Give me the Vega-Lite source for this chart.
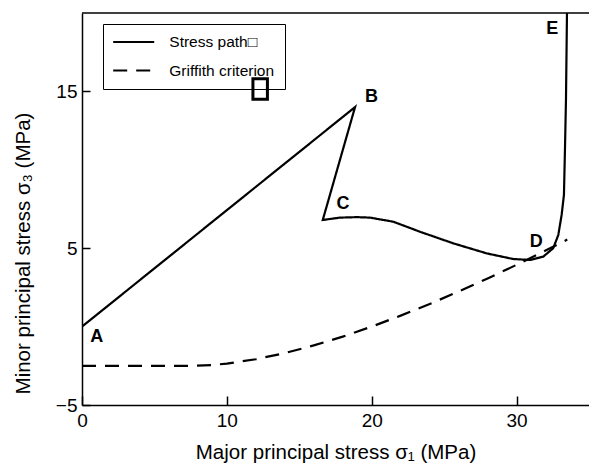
{
  "$schema": "https://vega.github.io/schema/vega-lite/v6.json",
  "width": 507,
  "height": 392,
  "autosize": "none",
  "padding": {"left": 82, "top": 13, "right": 0, "bottom": 63},
  "background": "white",
  "config": {
    "view": {"stroke": null},
    "font": "Liberation Sans",
    "axis": {
      "grid": false,
      "labelFlush": false,
      "domainColor": "black",
      "domainWidth": 1.5,
      "tickColor": "black",
      "tickWidth": 1.5,
      "labelColor": "black",
      "labelFont": "Liberation Sans",
      "labelFontSize": 19,
      "titleFont": "Liberation Sans",
      "titleFontSize": 20.5,
      "titleFontWeight": "normal",
      "titleColor": "black"
    }
  },
  "datasets": {
    "paths": [
      {"series": "Stress path□", "i": 0, "x": 0, "y": 0},
      {"series": "Stress path□", "i": 1, "x": 18.85, "y": 14.0},
      {"series": "Stress path□", "i": 2, "x": 16.62, "y": 6.8},
      {"series": "Stress path□", "i": 3, "x": 17.81, "y": 6.95},
      {"series": "Stress path□", "i": 4, "x": 19.0, "y": 6.98},
      {"series": "Stress path□", "i": 5, "x": 19.88, "y": 6.95},
      {"series": "Stress path□", "i": 6, "x": 21.49, "y": 6.69},
      {"series": "Stress path□", "i": 7, "x": 23.33, "y": 6.05},
      {"series": "Stress path□", "i": 8, "x": 25.63, "y": 5.31},
      {"series": "Stress path□", "i": 9, "x": 27.94, "y": 4.67},
      {"series": "Stress path□", "i": 10, "x": 29.77, "y": 4.31},
      {"series": "Stress path□", "i": 11, "x": 30.93, "y": 4.25},
      {"series": "Stress path□", "i": 12, "x": 31.84, "y": 4.46},
      {"series": "Stress path□", "i": 13, "x": 32.53, "y": 5.0},
      {"series": "Stress path□", "i": 14, "x": 32.88, "y": 5.84},
      {"series": "Stress path□", "i": 15, "x": 33.11, "y": 7.12},
      {"series": "Stress path□", "i": 16, "x": 33.27, "y": 8.39},
      {"series": "Stress path□", "i": 17, "x": 33.34, "y": 11.26},
      {"series": "Stress path□", "i": 18, "x": 33.41, "y": 14.45},
      {"series": "Stress path□", "i": 19, "x": 33.48, "y": 20},
      {"series": "Griffith criterion", "i": 0, "x": 0, "y": -2.5},
      {"series": "Griffith criterion", "i": 1, "x": 7.5, "y": -2.5},
      {"series": "Griffith criterion", "i": 2, "x": 9, "y": -2.45},
      {"series": "Griffith criterion", "i": 3, "x": 10, "y": -2.36},
      {"series": "Griffith criterion", "i": 4, "x": 12, "y": -2.08},
      {"series": "Griffith criterion", "i": 5, "x": 14, "y": -1.69},
      {"series": "Griffith criterion", "i": 6, "x": 16, "y": -1.2},
      {"series": "Griffith criterion", "i": 7, "x": 18, "y": -0.64},
      {"series": "Griffith criterion", "i": 8, "x": 20, "y": 0},
      {"series": "Griffith criterion", "i": 9, "x": 22, "y": 0.7},
      {"series": "Griffith criterion", "i": 10, "x": 24, "y": 1.44},
      {"series": "Griffith criterion", "i": 11, "x": 26, "y": 2.24},
      {"series": "Griffith criterion", "i": 12, "x": 28, "y": 3.07},
      {"series": "Griffith criterion", "i": 13, "x": 30, "y": 3.94},
      {"series": "Griffith criterion", "i": 14, "x": 32, "y": 4.85},
      {"series": "Griffith criterion", "i": 15, "x": 33.5, "y": 5.55}
    ],
    "labels": [
      {"t": "A", "x": 1.01, "y": -0.65},
      {"t": "B", "x": 19.98, "y": 14.64},
      {"t": "C", "x": 18.02, "y": 7.85},
      {"t": "D", "x": 31.36, "y": 5.4},
      {"t": "E", "x": 32.46, "y": 18.99}
    ],
    "box": [
      {"x": 11.8, "x2": 12.8, "y": 14.5, "y2": 15.8}
    ]
  },
  "layer": [
    {
      "data": {"name": "paths"},
      "mark": {"type": "line", "color": "black", "strokeWidth": 2.2, "clip": true},
      "encoding": {
        "x": {
          "field": "x", "type": "quantitative",
          "scale": {"domain": [0, 35], "nice": false, "zero": false},
          "axis": {
            "values": [0, 10, 20, 30],
            "tickSize": -9,
            "labelPadding": 15,
            "title": "Major principal stress σ₁ (MPa)",
            "titlePadding": 12
          }
        },
        "y": {
          "field": "y", "type": "quantitative",
          "scale": {"domain": [-5, 20], "nice": false, "zero": false},
          "axis": {
            "values": [-5, 5, 15],
            "tickSize": -8,
            "labelPadding": 13,
            "title": "Minor principal stress σ₃ (MPa)",
            "titleAngle": -90,
            "titleBaseline": "middle",
            "titleAlign": "center",
            "titleX": -59,
            "titleY": 240
          }
        },
        "strokeDash": {
          "field": "series", "type": "nominal",
          "scale": {"domain": ["Stress path□", "Griffith criterion"], "range": [[1, 0], [14, 9]]},
          "legend": {
            "title": null,
            "orient": "none",
            "legendX": 21,
            "legendY": 11,
            "strokeColor": "black",
            "padding": 10,
            "symbolType": "M-3,0H3",
            "symbolSize": 187,
            "symbolStrokeWidth": 2.2,
            "symbolStrokeColor": "black",
            "symbolOffset": 12.7,
            "labelOffset": 27.6,
            "labelFont": "Liberation Sans",
            "labelFontSize": 15.5,
            "labelColor": "black",
            "rowPadding": 11.5
          }
        },
        "order": {"field": "i", "type": "quantitative"}
      }
    },
    {
      "data": {"values": [{"top": 20}]},
      "mark": {"type": "rule", "color": "black", "strokeWidth": 1.5},
      "encoding": {"y": {"field": "top", "type": "quantitative"}}
    },
    {
      "data": {"name": "box"},
      "mark": {"type": "rect", "filled": false, "stroke": "black", "strokeWidth": 3},
      "encoding": {
        "x": {"field": "x", "type": "quantitative"},
        "x2": {"field": "x2"},
        "y": {"field": "y", "type": "quantitative"},
        "y2": {"field": "y2"}
      }
    },
    {
      "data": {"name": "labels"},
      "mark": {"type": "text", "font": "Liberation Sans", "fontWeight": "bold", "fontSize": 18, "color": "black", "align": "center", "baseline": "middle"},
      "encoding": {
        "x": {"field": "x", "type": "quantitative"},
        "y": {"field": "y", "type": "quantitative"},
        "text": {"field": "t"}
      }
    }
  ]
}
